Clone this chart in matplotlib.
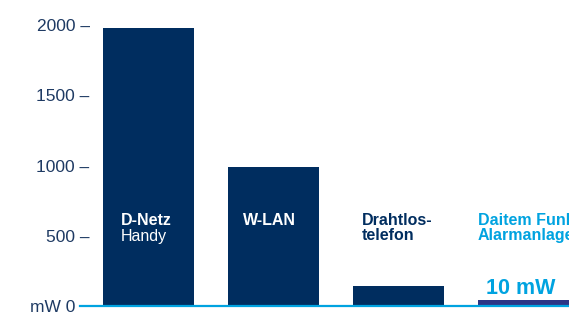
import matplotlib.pyplot as plt

plt.rcParams['font.family'] = ['Liberation Sans', 'DejaVu Sans']

# values (mW)
categories = ["D-Netz\nHandy", "W-LAN", "Drahtlos-\ntelefon", "Daitem Funk-\nAlarmanlage"]
values = [1980, 990, 145, 40]
yticks = [0, 500, 1000, 1500, 2000]
ytick_labels = ["mW 0   ", "500 –", "1000 –", "1500 –", "2000 –"]

navy = "#002d5f"
cyan = "#00a3e0"
bar_colors = [navy, navy, navy, "#2b3585"]

fig = plt.figure(figsize=(5.69, 3.14), dpi=100)
ax = fig.add_axes([80 / 569, 8 / 314, 489 / 569, 306 / 314])

x = list(range(len(values)))
ax.bar(x, values, width=0.728, color=bar_colors, zorder=2)

ax.set_xlim(-0.548, 3.364)
ax.set_ylim(0, 2178)
for s in ax.spines.values():
    s.set_visible(False)
ax.axhline(0, color=cyan, lw=1.6, zorder=3, clip_on=False)

ax.set_xticks([])
ax.set_yticks(yticks)
ax.set_yticklabels(ytick_labels, fontsize=12.5, color="#1e3a63")
ax.tick_params(axis="y", length=0, pad=-7)

# labels inside / above the bars (the last one runs off the right edge, as in the original)
ax.text(-0.22, 662, "D-Netz", color="white", fontsize=11.5, fontweight="bold", va="top")
ax.text(-0.22, 545, "Handy", color="white", fontsize=11.5, va="top")
ax.text(1 - 0.244, 662, "W-LAN", color="white", fontsize=11.5, fontweight="bold", va="top")
ax.text(2 - 0.292, 662, "Drahtlos-\ntelefon", color=navy, fontsize=11.5, fontweight="bold",
        va="top", linespacing=1.02)
ax.text(3 - 0.368, 662, "Daitem Funk-\nAlarmanlage", color=cyan, fontsize=11.5, fontweight="bold",
        va="top", linespacing=1.02)
ax.text(3 - 0.30, 125, "10 mW", color=cyan, fontsize=15.5, fontweight="bold", va="center")

fig.savefig("out.png", dpi=100)
